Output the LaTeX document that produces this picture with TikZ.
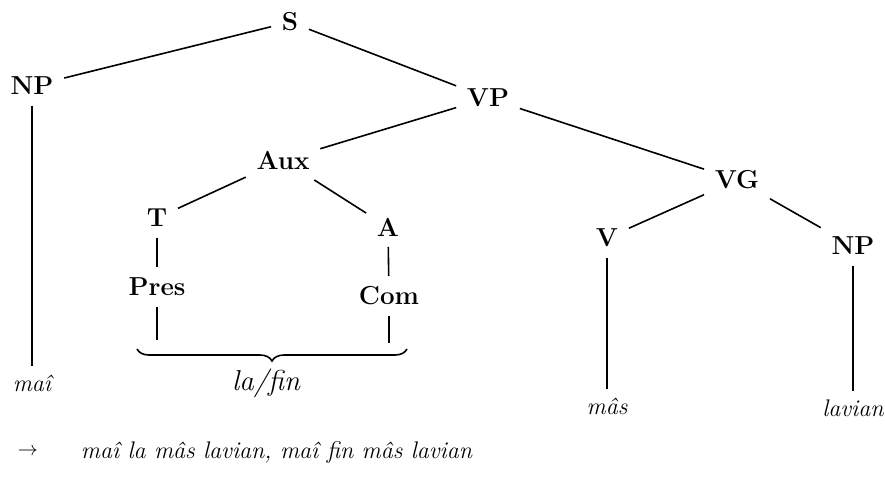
\documentclass[tikz,border=0pt]{standalone}
\usetikzlibrary{decorations.pathreplacing}

\begin{document}
\begin{tikzpicture}[x=0.5pt,y=-0.5pt,line width=0.8pt,
    cat/.style={font=\fontsize{13}{15}\selectfont\bfseries,inner sep=5pt},
    word/.style={font=\large\itshape,inner sep=4pt}]
  \useasboundingbox (0,0) rectangle (885,484);
  \node[cat] (s) at (290,22) {S};
  \node[cat] (np) at (32,86) {NP};
  \node[cat] (vp) at (488,98) {VP};
  \node[cat] (aux) at (283,160) {Aux};
  \node[cat] (vg) at (737,180) {VG};
  \node[cat] (t) at (157,218) {T};
  \node[cat] (a) at (388,227) {A};
  \node[cat] (v) at (607,238) {V};
  \node[cat] (np2) at (853,246) {NP};
  \node[cat] (pres) at (157,287) {Pres};
  \node[cat] (com) at (389,296) {Com};
  \node[word] (mai) at (32,383) {maî};
  \node[word,font=\Large\itshape] (lafin) at (266,383) {la/fin};
  \node[word] (mas) at (607,406) {mâs};
  \node[word] (lavian) at (853,408) {lavian};
  \node[word,anchor=west] (sent) at (72,452) {maî la mâs lavian, maî fin mâs lavian};
  \node (arr) at (28,452) {$\rightarrow$};
  \coordinate (presend) at (157,340);
  \coordinate (comend) at (389,343);
  \path[draw] (s) edge (np) (s) edge (vp)
              (np) edge (mai)
              (vp) edge (aux) (vp) edge (vg)
              (aux) edge (t) (aux) edge (a)
              (t) edge (pres) (a) edge (com)
              (pres) edge (presend) (com) edge (comend)
              (vg) edge (v) (vg) edge (np2)
              (v) edge (mas) (np2) edge (lavian);
  \draw[decorate,decoration={brace,mirror,amplitude=6pt}]
    (137,349) -- (407,349);
\end{tikzpicture}
\end{document}
